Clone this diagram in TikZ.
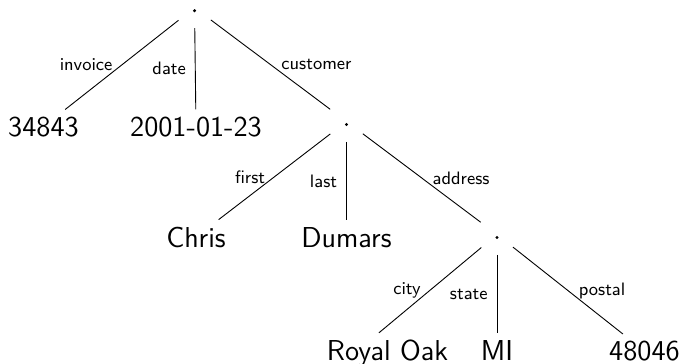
\documentclass[tikz,border=0pt]{standalone}
\renewcommand{\familydefault}{\sfdefault}
\begin{document}
\begin{tikzpicture}[x=0.5pt,y=-0.5pt,
  branch/.style={circle, minimum size=20pt, inner sep=0pt,
    path picture={\fill ([yshift=-1.5pt]path picture bounding box.center) circle (0.85pt);}},
  leaf/.style={font=\sffamily\fontsize{14.4}{17}\selectfont, anchor=base},
  lab/.style={font=\sffamily\fontsize{9}{11}\selectfont, inner sep=3pt},
  ll/.style={lab, midway, left=1.5pt},
  rl/.style={lab, midway, right=2.25pt},
  edge/.style={line width=0.45pt}]
\useasboundingbox (0,0) rectangle (686,364);

% inner (record) nodes
\node[branch] (root) at (194.5,7.7) {};
\node[branch] (cust) at (346.5,121.5) {};
\node[branch] (addr) at (497,234.5) {};

% leaves
\node[leaf] (invoice) at (43.5,136) {34843};
\node[leaf] (date)    at (196,136)  {2001-01-23};
\node[leaf] (first)   at (196,247)  {Chris};
\node[leaf] (last)    at (346.5,247) {Dumars};
\node[leaf] (city)    at (387.5,360.5) {Royal Oak};
\node[leaf] (state)   at (497,360.5)  {MI};
\node[leaf] (postal)  at (644.5,360.5) {48046};

% labelled edges
\draw[edge] (root) -- (invoice) node[ll] {invoice};
\draw[edge] (root) -- (date)    node[ll] {date};
\draw[edge] (root) -- (cust)    node[rl] {customer};
\draw[edge] (cust) -- (first)   node[ll] {first};
\draw[edge] (cust) -- (last)    node[ll] {last};
\draw[edge] (cust) -- (addr)    node[rl] {address};
\draw[edge] (addr) -- (city.113) node[ll] {city};
\draw[edge] (addr) -- (state)   node[ll] {state};
\draw[edge] (addr) -- (postal)  node[rl] {postal};
\end{tikzpicture}
\end{document}
